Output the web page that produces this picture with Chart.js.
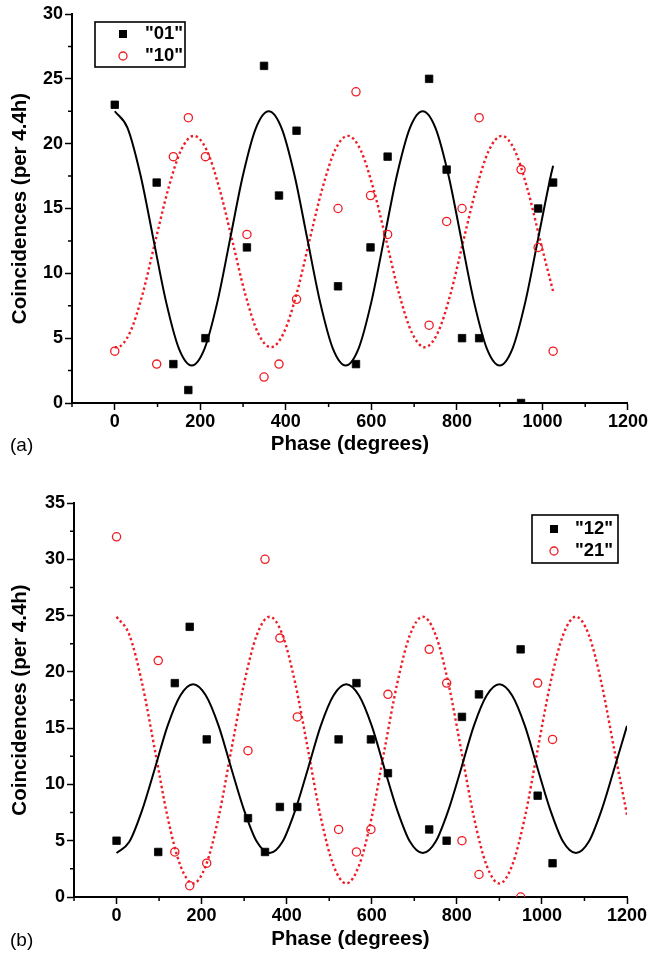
<!DOCTYPE html>
<html>
<head>
<meta charset="utf-8">
<script src="https://cdn.jsdelivr.net/npm/chart.js@4.4.0/dist/chart.umd.min.js"></script>
<style>
  html, body { margin: 0; padding: 0; background: #fff; }
  canvas { position: absolute; left: 0; }
  #chartA { top: 0; }
  #chartB { top: 470px; }
</style>
</head>
<body>
<canvas id="chartA" width="649" height="470"></canvas>
<canvas id="chartB" width="649" height="486"></canvas>
<script>
// measured phases (degrees), same for both panels
const phase = [0, 98, 137, 172, 212, 309, 349, 384, 425, 522, 564, 598, 638, 735, 776, 812, 852, 950, 990, 1025];

// panel (a)
const counts01 = [23, 17, 3, 1, 5, 12, 26, 16, 21, 9, 3, 12, 19, 25, 18, 5, 5, 0, 15, 17];
const counts10 = [4, 3, 19, 22, 19, 13, 2, 3, 8, 15, 24, 16, 13, 6, 14, 15, 22, 18, 12, 4];

// panel (b)
const counts12 = [5, 4, 19, 24, 14, 7, 4, 8, 8, 14, 19, 14, 11, 6, 5, 16, 18, 22, 9, 3];
const counts21 = [32, 21, 4, 1, 3, 13, 30, 23, 16, 6, 4, 6, 18, 22, 19, 5, 2, 0, 19, 14];

// fitted curves
const fit01X = [0, 30, 60, 90, 120, 150, 180, 210, 240, 270, 300, 330, 360, 390, 420, 450, 480, 510,
  540, 570, 600, 630, 660, 690, 720, 750, 780, 810, 840, 870, 900, 930, 960, 990, 1020, 1025];
const fit01Y = [22.5, 21.2, 17.6, 12.7, 7.8, 4.2, 2.9, 4.2, 7.8, 12.7, 17.6, 21.2,
  22.5, 21.2, 17.6, 12.7, 7.8, 4.2, 2.9, 4.2, 7.8, 12.7, 17.6, 21.2,
  22.5, 21.2, 17.6, 12.7, 7.8, 4.2, 2.9, 4.2, 7.8, 12.7, 17.6, 18.3];
const fit10X = [0, 5, 35, 65, 95, 125, 155, 185, 215, 245, 275, 305, 335, 365, 395, 425, 455, 485,
  515, 545, 575, 605, 635, 665, 695, 725, 755, 785, 815, 845, 875, 905, 935, 965, 995, 1025];
const fit10Y = [4.3, 4.3, 5.4, 8.4, 12.5, 16.5, 19.5, 20.6, 19.5, 16.5, 12.5, 8.4, 5.4,
  4.3, 5.4, 8.4, 12.5, 16.5, 19.5, 20.6, 19.5, 16.5, 12.5, 8.4, 5.4,
  4.3, 5.4, 8.4, 12.5, 16.5, 19.5, 20.6, 19.5, 16.5, 12.5, 8.6];

const fitBX = [0, 30, 60, 90, 120, 150, 180, 210, 240, 270, 300, 330, 360, 390, 420, 450, 480, 510,
  540, 570, 600, 630, 660, 690, 720, 750, 780, 810, 840, 870, 900, 930, 960, 990, 1020, 1050,
  1080, 1110, 1140, 1170, 1200];
const fit12Y = [3.9, 4.9, 7.7, 11.4, 15.2, 17.9, 18.9, 17.9, 15.2, 11.4, 7.7, 4.9,
  3.9, 4.9, 7.7, 11.4, 15.2, 17.9, 18.9, 17.9, 15.2, 11.4, 7.7, 4.9,
  3.9, 4.9, 7.7, 11.4, 15.2, 17.9, 18.9, 17.9, 15.2, 11.4, 7.7, 4.9,
  3.9, 4.9, 7.7, 11.4, 15.2];
const fit21Y = [24.9, 23.3, 19.0, 13.1, 7.1, 2.8, 1.2, 2.8, 7.1, 13.1, 19.0, 23.3,
  24.9, 23.3, 19.0, 13.1, 7.1, 2.8, 1.2, 2.8, 7.1, 13.1, 19.0, 23.3,
  24.9, 23.3, 19.0, 13.1, 7.1, 2.8, 1.2, 2.8, 7.1, 13.1, 19.0, 23.3,
  24.9, 23.3, 19.0, 13.1, 7.3];

const RED = '#ee1c24';
const FONT = "'Liberation Sans', Arial, sans-serif";
Chart.defaults.font.family = FONT;
Chart.defaults.color = '#000';

const pts = (xs, ys) => xs.map((x, i) => ({ x, y: ys[i] }));

// minor ticks, legend box and panel tag
const decor = {
  id: 'decor',
  afterDraw(chart, args, o) {
    const { ctx, chartArea: a, scales: { x, y } } = chart;
    ctx.save();
    ctx.strokeStyle = '#000';
    ctx.lineWidth = 1.5;
    ctx.beginPath();
    for (let v = -100; v <= 1100; v += 200) {
      const px = x.getPixelForValue(v);
      ctx.moveTo(px, a.bottom);
      ctx.lineTo(px, a.bottom + 4);
    }
    for (let v = 2.5; v < y.max; v += 5) {
      const py = y.getPixelForValue(v);
      ctx.moveTo(a.left, py);
      ctx.lineTo(a.left - 4, py);
    }
    ctx.stroke();

    const b = o.box;
    ctx.lineWidth = 1.6;
    ctx.strokeRect(b.x, b.y, b.w, b.h);
    ctx.fillStyle = '#000';
    ctx.fillRect(o.markX - 4, o.rows[0] - 4, 8, 8);
    ctx.strokeStyle = RED;
    ctx.lineWidth = 1.3;
    ctx.beginPath();
    ctx.arc(o.markX, o.rows[1], 4, 0, Math.PI * 2);
    ctx.stroke();
    ctx.font = 'bold 18.5px ' + FONT;
    ctx.textBaseline = 'middle';
    ctx.textAlign = 'left';
    ctx.fillText(o.labels[0], o.textX, o.rows[0]);
    ctx.fillText(o.labels[1], o.textX, o.rows[1]);

    ctx.font = '19px ' + FONT;
    ctx.fillText(o.tag, 10, o.tagY);
    ctx.restore();
  }
};

function makePanel(id, p) {
  return new Chart(document.getElementById(id), {
    type: 'scatter',
    data: {
      datasets: [
        {
          label: p.labels[0],
          data: pts(phase, p.a),
          pointStyle: 'rect',
          pointRadius: 5.3,
          borderWidth: 0.8,
          borderColor: '#000',
          backgroundColor: '#000'
        },
        {
          label: p.labels[1],
          data: pts(phase, p.b),
          pointStyle: 'circle',
          pointRadius: 4.1,
          borderWidth: 1.3,
          borderColor: RED,
          backgroundColor: 'rgba(0,0,0,0)'
        },
        {
          label: 'fit ' + p.labels[0],
          data: pts(p.fitAX, p.fitAY),
          showLine: true,
          pointRadius: 0,
          borderColor: '#000',
          borderWidth: 2,
          cubicInterpolationMode: 'monotone'
        },
        {
          label: 'fit ' + p.labels[1],
          data: pts(p.fitBX, p.fitBY),
          showLine: true,
          pointRadius: 0,
          borderColor: RED,
          borderWidth: 2.4,
          borderDash: [2.4, 2.8],
          cubicInterpolationMode: 'monotone'
        }
      ]
    },
    options: {
      responsive: false,
      animation: false,
      layout: { padding: { left: 0, right: p.padRight, top: p.padTop, bottom: 0 } },
      plugins: {
        legend: { display: false },
        tooltip: { enabled: false },
        decor: p.decor
      },
      scales: {
        x: {
          type: 'linear',
          min: -100,
          max: 1200,
          afterFit: s => { s.height = p.xHeight; },
          border: { display: true, color: '#000', width: 2 },
          grid: {
            drawOnChartArea: false,
            tickLength: 7,
            tickWidth: 1.5,
            tickColor: c => (c.tick && c.tick.value % 200 === 0) ? '#000' : 'rgba(0,0,0,0)'
          },
          ticks: {
            stepSize: 100,
            autoSkip: false,
            maxRotation: 0,
            padding: 1,
            font: { size: 18, weight: 'bold' },
            callback: v => (v % 200 === 0 ? v : '')
          },
          title: {
            display: true,
            text: 'Phase (degrees)',
            font: { size: 20.5, weight: 'bold' },
            padding: { top: 0, bottom: p.titlePad }
          }
        },
        y: {
          type: 'linear',
          min: 0,
          max: p.yMax,
          afterFit: s => { s.width = p.yWidth; },
          border: { display: true, color: '#000', width: 2 },
          grid: {
            drawOnChartArea: false,
            tickLength: 7,
            tickWidth: 1.5,
            tickColor: c => (c.tick && c.tick.value % 5 === 0) ? '#000' : 'rgba(0,0,0,0)'
          },
          ticks: {
            stepSize: 2.5,
            padding: 2,
            font: { size: 18, weight: 'bold' },
            callback: v => (v % 5 === 0 ? v : '')
          },
          title: {
            display: true,
            text: 'Coincidences (per 4.4h)',
            font: { size: 20.5, weight: 'bold' },
            padding: { top: 8, bottom: 0 }
          }
        }
      }
    },
    plugins: [decor]
  });
}

makePanel('chartA', {
  labels: ['"01"', '"10"'],
  a: counts01, b: counts10,
  fitAX: fit01X, fitAY: fit01Y,
  fitBX: fit10X, fitBY: fit10Y,
  yMax: 30, yWidth: 72, xHeight: 67,
  padTop: 14, padRight: 21, titlePad: 13,
  decor: {
    box: { x: 95, y: 22, w: 90, h: 45 },
    markX: 123, textX: 145, rows: [34, 56],
    labels: ['"01"', '"10"'],
    tag: '(a)', tagY: 446
  }
});

makePanel('chartB', {
  labels: ['"12"', '"21"'],
  a: counts12, b: counts21,
  fitAX: fitBX, fitAY: fit12Y,
  fitBX: fitBX, fitBY: fit21Y,
  yMax: 35, yWidth: 74, xHeight: 59,
  padTop: 33, padRight: 22, titlePad: 4,
  decor: {
    box: { x: 532, y: 45, w: 86, h: 48 },
    markX: 554, textX: 575, rows: [59, 81],
    labels: ['"12"', '"21"'],
    tag: '(b)', tagY: 471
  }
});
</script>
</body>
</html>
